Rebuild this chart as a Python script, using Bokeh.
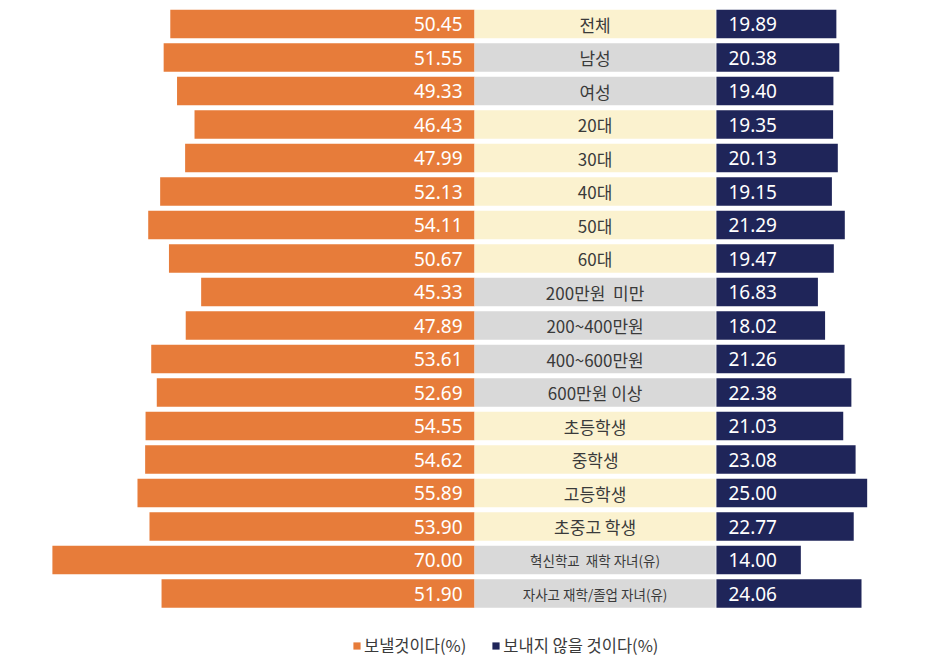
from bokeh.plotting import figure
from bokeh.models import Range1d, Legend, LegendItem, ColumnDataSource
from bokeh.core.properties import value
from bokeh.embed import file_html
from bokeh.resources import INLINE

categories = ["전체", "남성", "여성", "20대", "30대", "40대", "50대", "60대",
              "200만원\u00a0\u00a0미만", "200~400만원", "400~600만원", "600만원 이상",
              "초등학생", "중학생", "고등학생", "초중고 학생",
              "혁신학교\u00a0\u00a0재학 자녀(유)", "자사고 재학/졸업 자녀(유)"]
send = [50.45, 51.55, 49.33, 46.43, 47.99, 52.13, 54.11, 50.67,
        45.33, 47.89, 53.61, 52.69, 54.55, 54.62, 55.89, 53.90, 70.00, 51.90]
not_send = [19.89, 20.38, 19.40, 19.35, 20.13, 19.15, 21.29, 19.47,
            16.83, 18.02, 21.26, 22.38, 21.03, 23.08, 25.00, 22.77, 14.00, 24.06]
groups = ["y", "g", "g", "y", "y", "y", "y", "y", "g", "g", "g", "g",
          "y", "y", "y", "y", "g", "g"]
series_names = ["보낼것이다(%)", "보내지 않을 것이다(%)"]

ORANGE = "#E77C3A"
NAVY = "#1F2559"
YELLOW = "#FBF2CF"
GREY = "#D9D9D9"

W, H = 933, 659
S = 6.03          # px per unit
LABEL_W = 40.0
GAP = 40.12
x0 = -474 / S
x1 = x0 + W / S
ytop = -23.5 / 33.5
ybot = ytop + H / 33.5

idx = list(range(len(categories)))
src = ColumnDataSource(dict(
    y=idx,
    neg=[-v for v in send],
    ns_right=[GAP + v for v in not_send],
    cat=categories,
    box=[YELLOW if g == "y" else GREY for g in groups],
    send_lbl=[f"{v:.2f}" for v in send],
    ns_lbl=[f"{v:.2f}" for v in not_send],
    fs=["13.5px" if len(c) > 10 else "17px" for c in categories],
))

p = figure(width=W, height=H, x_range=Range1d(x0, x1), y_range=Range1d(ybot, ytop),
           output_backend="svg", toolbar_location=None, min_border=0,
           x_axis_type=None, y_axis_type=None)
p.outline_line_color = None
p.xgrid.visible = False
p.ygrid.visible = False

BH = 0.85
r1 = p.hbar(y="y", left="neg", right=0, height=BH, color=ORANGE, line_color=None, source=src)
p.hbar(y="y", left=0, right=LABEL_W, height=BH, fill_color="box", line_color=None, source=src)
r2 = p.hbar(y="y", left=GAP, right="ns_right", height=BH, color=NAVY, line_color=None, source=src)

p.text(x=0, y="y", text="send_lbl", x_offset=-12, text_align="right", text_baseline="middle",
       text_color="white", text_font=value("Noto Sans"), text_font_size="19px", source=src)
p.text(x=GAP, y="y", text="ns_lbl", x_offset=12, text_align="left", text_baseline="middle",
       text_color="white", text_font=value("Noto Sans"), text_font_size="19px", source=src)
p.text(x=LABEL_W / 2, y="y", text="cat", text_align="center", text_baseline="middle",
       text_color="#3A3A3A", text_font=value("Noto Sans CJK KR"), text_font_size="fs", source=src)

legend = Legend(items=[LegendItem(label=series_names[0], renderers=[r1]),
                       LegendItem(label=series_names[1], renderers=[r2])],
                orientation="horizontal", location=(352, 2),
                glyph_width=9, glyph_height=9, label_standoff=3, spacing=25,
                padding=0, margin=0, border_line_color=None, background_fill_alpha=0,
                label_text_font="Noto Sans CJK KR", label_text_font_size="16.5px",
                label_text_color="#3A3A3A")
p.add_layout(legend, "center")

open("out.html", "w").write(file_html(p, INLINE))
